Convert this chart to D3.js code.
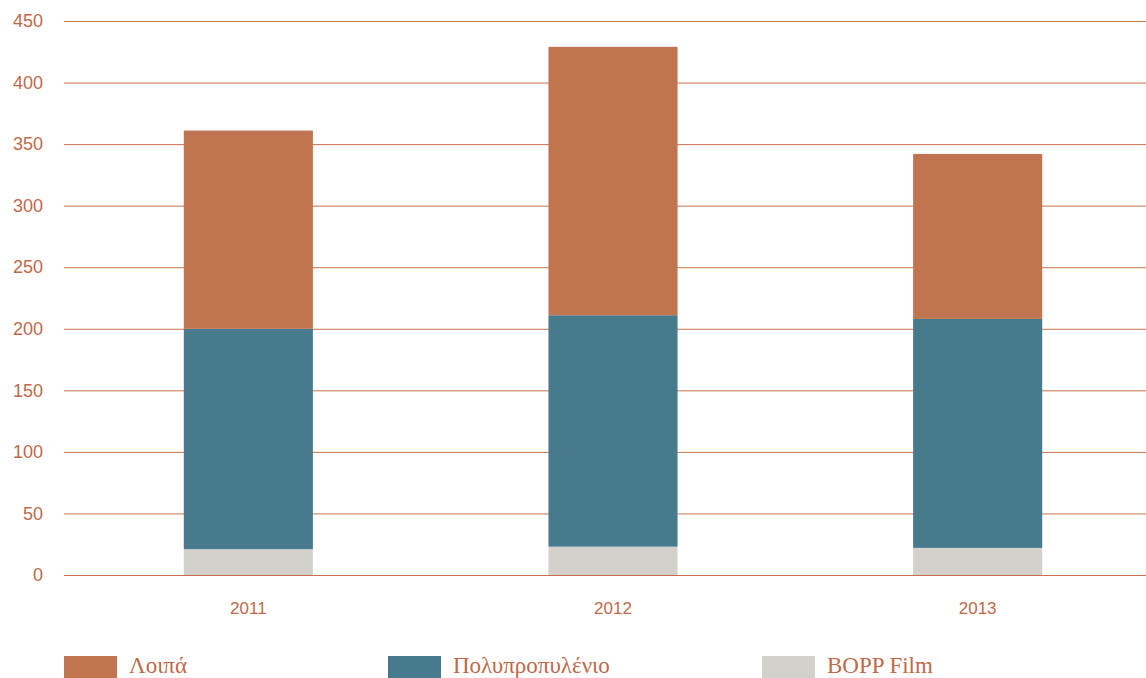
<!DOCTYPE html>
<html>
<head>
<meta charset="utf-8">
<script src="https://cdn.jsdelivr.net/npm/d3@7"></script>
<style>
  body { margin: 0; background: #fff; }
  .tick text { font-family: 'Liberation Sans', Arial, sans-serif; fill: #c0694a; }
  .legend text { font-family: 'Liberation Serif', 'Times New Roman', serif; fill: #c0694a; }
</style>
</head>
<body>
<div id="chart"></div>
<script>
const years = ['2011', '2012', '2013'];
const bopp = [21, 23, 22];
const polypropylene = [179, 188, 186];
const others = [161, 218, 134];
const yTicks = [0, 50, 100, 150, 200, 250, 300, 350, 400, 450];

const series = [
    { key: 'bopp', label: 'BOPP Film', values: bopp },
    { key: 'pp', label: 'Πολυπροπυλένιο', values: polypropylene },
    { key: 'other', label: 'Λοιπά', values: others }
];
const palette = {
    'bopp': '#d4d1cc',
    'pp': '#487a8e',
    'other': '#c07450'
};

const width = 1146;
const height = 678;

const svg = d3.select('#chart')
    .append('svg')
    .attr('width', width)
    .attr('height', height);

const x = d3.scaleBand()
    .domain(years)
    .range([66, 1160])
    .paddingInner(0.646)
    .paddingOuter(0.323);

const y = d3.scaleLinear()
    .domain([0, 450])
    .range([575, 21]);

// gridlines + y labels
const yAxis = svg.append('g')
    .attr('transform', 'translate(64,0)')
    .call(d3.axisLeft(y).tickValues(yTicks).tickSize(-(width - 64)).tickPadding(21))
    .call(g => g.select('.domain').remove());
yAxis.selectAll('.tick line').attr('stroke', '#c9714d').attr('stroke-width', 1);
yAxis.selectAll('.tick text').style('font-size', '18px');

// stacked bars
const table = years.map((yr, i) => {
    const row = { year: yr };
    series.forEach(s => row[s.key] = s.values[i]);
    return row;
});
const stacked = d3.stack().keys(series.map(s => s.key))(table);

svg.append('g').selectAll('g')
    .data(stacked)
    .enter()
    .append('g')
        .attr('fill', d => palette[d.key])
    .selectAll('rect')
    .data(d => d)
    .enter()
    .append('rect')
        .attr('x', d => x(d.data.year))
        .attr('y', d => y(d[1]))
        .attr('width', x.bandwidth())
        .attr('height', d => y(d[0]) - y(d[1]));

// x labels
const xAxis = svg.append('g')
    .attr('transform', 'translate(0,575)')
    .call(d3.axisBottom(x).tickSize(0).tickPadding(27))
    .call(g => g.select('.domain').remove());
xAxis.selectAll('.tick text').style('font-size', '17px');

// legend
const legendOrder = [series[2], series[1], series[0]];
const legendX = [64, 388, 762];
const legend = svg.append('g').classed('legend', true)
    .selectAll('g')
    .data(legendOrder)
    .enter()
    .append('g')
        .attr('transform', (d, i) => 'translate(' + legendX[i] + ',656)');

legend.append('rect')
    .attr('width', 53)
    .attr('height', 26)
    .attr('fill', d => palette[d.key]);

legend.append('text')
    .attr('x', 65)
    .attr('y', 17)
    .style('font-size', '23px')
    .text(d => d.label);
</script>
</body>
</html>
